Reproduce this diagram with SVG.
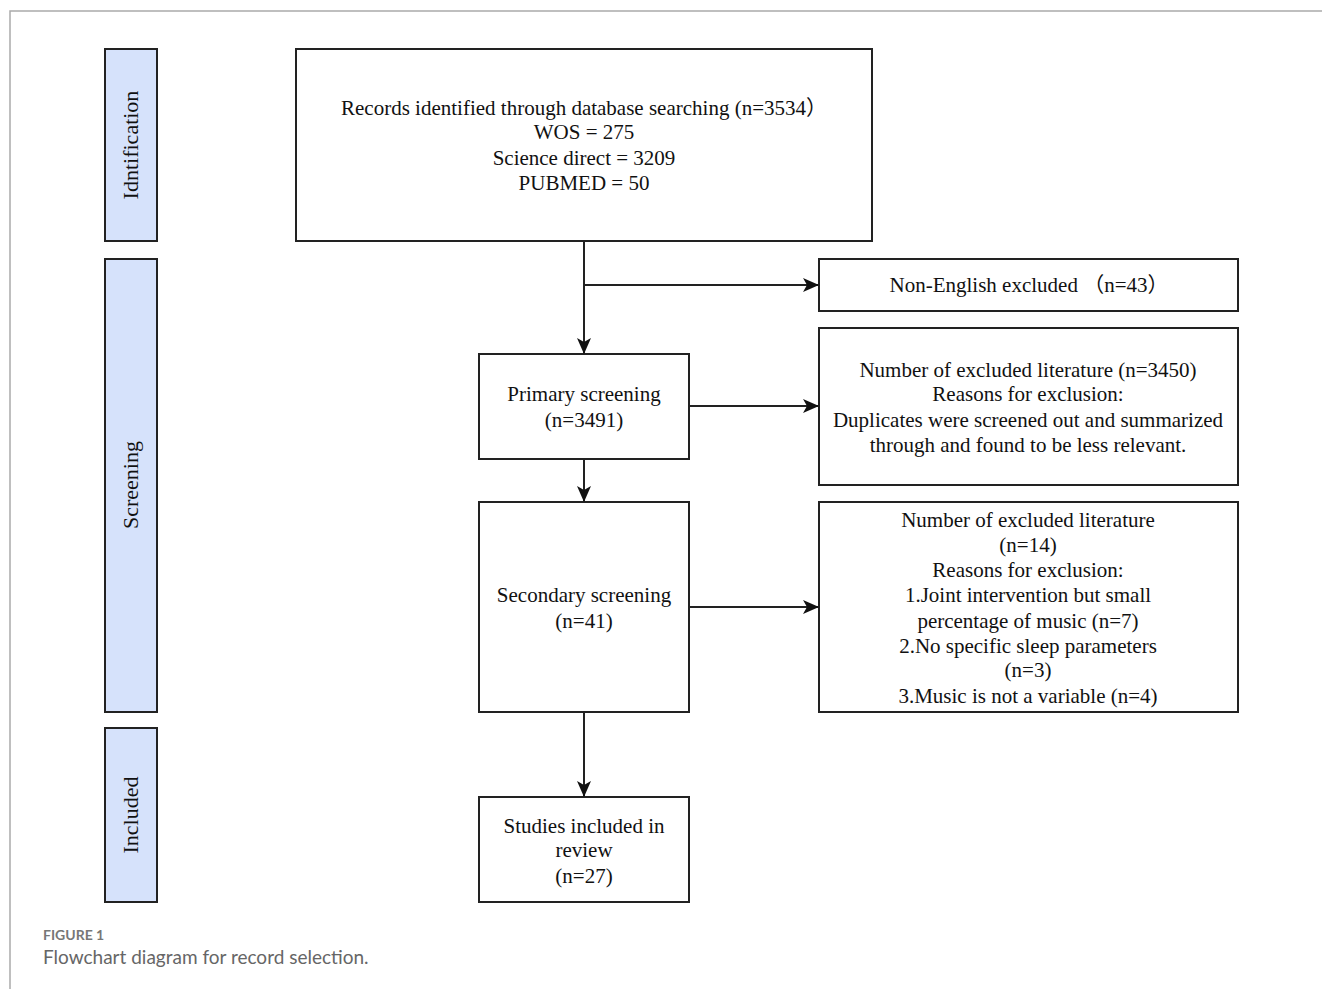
<svg xmlns="http://www.w3.org/2000/svg" width="1322" height="989" viewBox="0 0 1322 989">
<style>
.box{fill:#fff;stroke:#222;stroke-width:2}
.stage{fill:#d6e2fb;stroke:#222;stroke-width:2}
.t{font-family:"Liberation Serif","Noto Sans CJK SC",serif;font-size:21px;fill:#111;text-anchor:middle}
.s{font-size:22px}
.c{stroke:#222;stroke-width:2;fill:none;marker-end:url(#ah)}
.cap1{font-family:Lato,"Open Sans",sans-serif;font-size:14px;font-weight:bold;fill:#777}
.cap2{font-family:Lato,"Open Sans",sans-serif;font-size:19px;fill:#666}
</style>
<defs>
<marker id="ah" markerWidth="16" markerHeight="14" refX="15" refY="7" orient="auto" markerUnits="userSpaceOnUse">
<path d="M0,0 L16,7 L0,14 L4,7 Z" fill="#111"/>
</marker>
</defs>
<rect width="1322" height="989" fill="#fff"/>
<path d="M10,989 V11 H1322" fill="none" stroke="#aaa" stroke-width="1.5"/>

<g id="stage-identification">
<rect class="stage" x="105" y="49" width="52" height="192"/>
<text class="t s" transform="translate(138,145) rotate(-90)">Idntification</text>
</g>
<g id="stage-screening">
<rect class="stage" x="105" y="259" width="52" height="453"/>
<text class="t s" transform="translate(138,485) rotate(-90)">Screening</text>
</g>
<g id="stage-included">
<rect class="stage" x="105" y="728" width="52" height="174"/>
<text class="t s" transform="translate(138,815) rotate(-90)">Included</text>
</g>

<g id="records">
<rect class="box" x="296" y="49" width="576" height="192"/>
<text class="t" x="584" y="115">Records identified through database searching (n=3534）</text>
<text class="t" x="584" y="139">WOS = 275</text>
<text class="t" x="584" y="165">Science direct = 3209</text>
<text class="t" x="584" y="190">PUBMED = 50</text>
</g>
<g id="non-english">
<rect class="box" x="819" y="259" width="419" height="52"/>
<text class="t" x="1029" y="292">Non-English excluded （n=43）</text>
</g>
<g id="primary">
<rect class="box" x="479" y="354" width="210" height="105"/>
<text class="t" x="584" y="401">Primary screening</text>
<text class="t" x="584" y="427">(n=3491)</text>
</g>
<g id="excluded-3450">
<rect class="box" x="819" y="328" width="419" height="157"/>
<text class="t" x="1028" y="377">Number of excluded literature (n=3450)</text>
<text class="t" x="1028" y="401">Reasons for exclusion:</text>
<text class="t" x="1028" y="427">Duplicates were screened out and summarized</text>
<text class="t" x="1028" y="452">through and found to be less relevant.</text>
</g>
<g id="secondary">
<rect class="box" x="479" y="502" width="210" height="210"/>
<text class="t" x="584" y="602">Secondary screening</text>
<text class="t" x="584" y="628">(n=41)</text>
</g>
<g id="excluded-14">
<rect class="box" x="819" y="502" width="419" height="210"/>
<text class="t" x="1028" y="527">Number of excluded literature</text>
<text class="t" x="1028" y="552">(n=14)</text>
<text class="t" x="1028" y="577">Reasons for exclusion:</text>
<text class="t" x="1028" y="602">1.Joint intervention but small</text>
<text class="t" x="1028" y="628">percentage of music (n=7)</text>
<text class="t" x="1028" y="653">2.No specific sleep parameters</text>
<text class="t" x="1028" y="677">(n=3)</text>
<text class="t" x="1028" y="703">3.Music is not a variable (n=4)</text>
</g>
<g id="included">
<rect class="box" x="479" y="797" width="210" height="105"/>
<text class="t" x="584" y="833">Studies included in</text>
<text class="t" x="584" y="857">review</text>
<text class="t" x="584" y="883">(n=27)</text>
</g>

<g id="connectors">
<path class="c" d="M584,241 V353"/>
<path class="c" d="M584,285 H818"/>
<path class="c" d="M689,406 H818"/>
<path class="c" d="M584,459 V501"/>
<path class="c" d="M689,607 H818"/>
<path class="c" d="M584,712 V796"/>
</g>

<text class="cap1" x="43" y="940">FIGURE 1</text>
<text class="cap2" x="43" y="964">Flowchart diagram for record selection.</text>
</svg>
